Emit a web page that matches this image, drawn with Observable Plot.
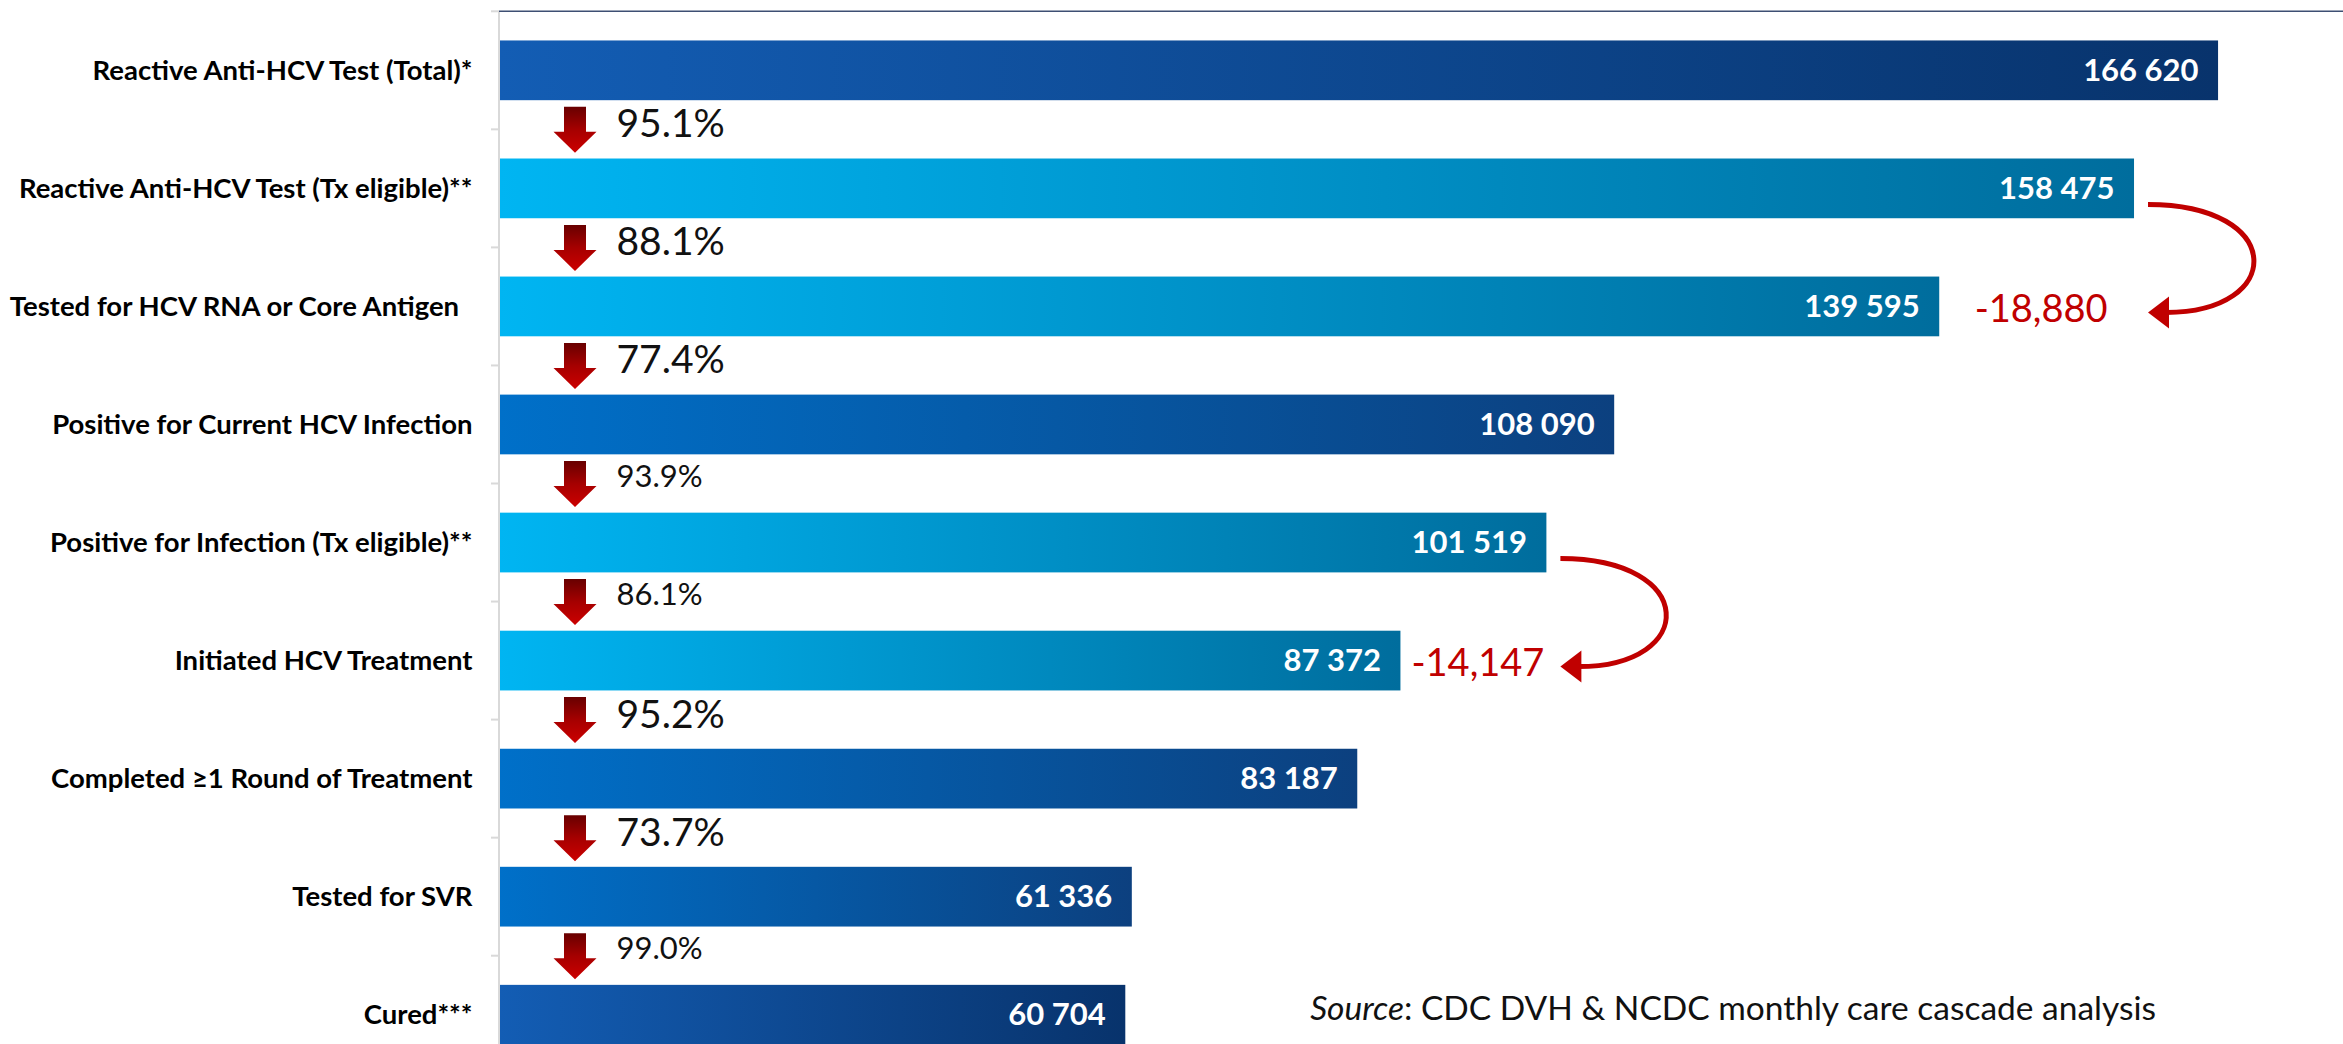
<!DOCTYPE html>
<html>
<head>
<meta charset="utf-8">
<script src="https://cdn.jsdelivr.net/npm/d3@7"></script>
<script src="https://cdn.jsdelivr.net/npm/@observablehq/plot@0.6"></script>
<style>
html, body { margin: 0; padding: 0; background: #fff; overflow: hidden; }
</style>
</head>
<body>
<div id="chart"></div>
<script>
// ---------------- data ----------------
const stages = [
  "Reactive Anti-HCV Test (Total)*",
  "Reactive Anti-HCV Test (Tx eligible)**",
  "Tested for HCV RNA or Core Antigen  ",
  "Positive for Current HCV Infection",
  "Positive for Infection (Tx eligible)**",
  "Initiated HCV Treatment",
  "Completed \u22651 Round of Treatment",
  "Tested for SVR",
  "Cured***"
];
const counts = [166620, 158475, 139595, 108090, 101519, 87372, 83187, 61336, 60704];
const stageGroup = ["total", "eligible", "eligible", "confirmed", "eligible", "eligible", "confirmed", "confirmed", "total"];
const stepRates = [95.1, 88.1, 77.4, 93.9, 86.1, 95.2, 73.7, 99.0];
const stepHighlighted = [true, true, true, false, false, true, true, false];
const dropFrom = [1, 4];
const dropTo = [2, 5];
const dropValues = [-18880, -14147];
const sourceLead = "Source";
const sourceRest = ": CDC DVH & NCDC monthly care cascade analysis";

// ---------------- styling ----------------
const W = 2343, H = 1044;
const RED = "#c00000";
const gradients = {
  total: ["#135db4", "#08336c"],
  eligible: ["#00b5f2", "#006d9d"],
  confirmed: ["#0070c9", "#0c407f"]
};
const Y0 = 11.3, STEP = 118.05;
const ARROW_OFF = 14; // px gap between source bar end and curved arrow

const fmtCount = v => d3.format(",")(v).replace(/,/g, " ");
const fmtDrop = v => (v < 0 ? "-" : "") + d3.format(",")(Math.abs(v));

const rows = stages.map((stage, i) => ({stage, count: counts[i], group: stageGroup[i]}));
const steps = stepRates.map((r, i) => ({to: stages[i + 1], label: r.toFixed(1) + "%", big: stepHighlighted[i]}));
const drops = dropFrom.map((f, i) => ({
  mid: (counts[f] + counts[dropTo[i]]) / 2,
  toStage: stages[dropTo[i]],
  label: fmtDrop(dropValues[i])
}));

const defsMark = () => {
  const defs = d3.create("svg:defs");
  for (const [k, [a, b]] of Object.entries(gradients)) {
    const g = defs.append("linearGradient").attr("id", "grad-" + k)
      .attr("x1", 0).attr("x2", 1).attr("y1", 0).attr("y2", 0);
    g.append("stop").attr("offset", 0).attr("stop-color", a);
    g.append("stop").attr("offset", 1).attr("stop-color", b);
  }
  const ag = defs.append("linearGradient").attr("id", "grad-arrow")
    .attr("x1", 0).attr("x2", 0).attr("y1", 0).attr("y2", 1);
  ag.append("stop").attr("offset", 0).attr("stop-color", "#680000");
  ag.append("stop").attr("offset", 0.5).attr("stop-color", "#a60000");
  ag.append("stop").attr("offset", 1).attr("stop-color", "#cc0000");
  return defs.node();
};

function frameDecor(index, scales, values, dims) {
  const y = scales.y;
  const bw = y.bandwidth ? y.bandwidth() : STEP * 0.506;
  const st = y.step ? y.step() : STEP;
  const x0 = dims.marginLeft;
  const g = d3.create("svg:g");
  g.append("line").attr("x1", x0).attr("x2", x0).attr("y1", dims.marginTop).attr("y2", dims.height)
    .attr("stroke", "#d9d9d9").attr("stroke-width", 2);
  for (const s of stages) {
    const yb = y(s) - (st - bw) / 2;
    g.append("line").attr("x1", x0 - 8).attr("x2", x0).attr("y1", yb).attr("y2", yb)
      .attr("stroke", "#d9d9d9").attr("stroke-width", 2);
  }
  g.append("line").attr("x1", x0).attr("x2", dims.width).attr("y1", dims.marginTop).attr("y2", dims.marginTop)
    .attr("stroke", "#3d4f73").attr("stroke-width", 1.6);
  return g.node();
}

function dropArrows(index, scales) {
  const {x, y} = scales;
  const bw = y.bandwidth ? y.bandwidth() : STEP * 0.506;
  const g = d3.create("svg:g");
  dropFrom.forEach((f, i) => {
    const t = dropTo[i];
    const sx = x(counts[f]) + ARROW_OFF;
    const y0 = y(stages[f]) + bw / 2 + 16;
    const y1 = y(stages[t]) + bw / 2 + 6;
    const k = 138;
    g.append("path")
      .attr("d", `M${sx},${y0} C${sx + k},${y0} ${sx + k},${y1} ${sx + 18},${y1}`)
      .attr("fill", "none").attr("stroke", RED).attr("stroke-width", 5);
    g.append("path")
      .attr("d", `M${sx},${y1} L${sx + 21},${y1 - 16} L${sx + 21},${y1 + 16} Z`)
      .attr("fill", RED);
  });
  return g.node();
}

function sourceNote(index, scales, values, dims) {
  const y = scales.y;
  const bw = y.bandwidth ? y.bandwidth() : STEP * 0.506;
  const yc = y(stages[stages.length - 1]) + bw / 2 - 5;
  const t = d3.create("svg:text")
    .attr("x", dims.width - 187).attr("y", yc).attr("dy", "0.32em")
    .attr("text-anchor", "end").attr("font-size", 33.5).attr("fill", "#111");
  t.append("tspan").attr("font-style", "italic").text(sourceLead);
  t.append("tspan").text(sourceRest);
  return t.node();
}

const downArrow = {
  draw(ctx, l) {
    const sw = 11, hw = 21.5, hl = 21;
    ctx.moveTo(-sw, -l);
    ctx.lineTo(sw, -l);
    ctx.lineTo(sw, -hl);
    ctx.lineTo(hw, -hl);
    ctx.lineTo(0, 0);
    ctx.lineTo(-hw, -hl);
    ctx.lineTo(-sw, -hl);
    ctx.closePath();
  }
};

const chart = Plot.plot({
  width: W,
  height: H,
  marginLeft: 499,
  marginRight: 0,
  marginTop: Y0,
  marginBottom: 0,
  x: {domain: [0, 178730], axis: null},
  y: {domain: stages, range: [Y0, Y0 + 9 * STEP], paddingInner: 0.494, paddingOuter: 0.247, round: false},
  style: {fontFamily: "Lato, 'Open Sans', sans-serif", fontSize: "20px", color: "black", background: "white", overflow: "hidden"},
  marks: [
    defsMark,
    ...Object.keys(gradients).map(k =>
      Plot.barX(rows, {filter: d => d.group === k, x: "count", y: "stage", fill: `url(#grad-${k})`})
    ),
    frameDecor,
    Plot.axisY({anchor: "left", tickSize: 0, tickPadding: 27, fontSize: 27.5, fontWeight: "bold", label: null, fill: "black"}),
    Plot.text(rows, {x: "count", y: "stage", text: d => fmtCount(d.count), textAnchor: "end", dx: -20, fill: "white", fontWeight: "bold", fontSize: 31}),
    Plot.vector(steps, {x: () => 0, y: "to", dx: 75.5, dy: -STEP / 2, length: 46, shape: downArrow, fill: "url(#grad-arrow)", stroke: "none"}),
    Plot.text(steps, {filter: d => d.big, x: () => 0, y: "to", text: "label", textAnchor: "start", dx: 117, dy: -STEP / 2 - 5, fontSize: 39, fill: "#111"}),
    Plot.text(steps, {filter: d => !d.big, x: () => 0, y: "to", text: "label", textAnchor: "start", dx: 117, dy: -STEP / 2 - 7, fontSize: 31, fill: "#111"}),
    dropArrows,
    Plot.text(drops, {x: "mid", y: "toStage", text: "label", textAnchor: "middle", dx: ARROW_OFF / 2 - 3, dy: 3, fill: RED, fontSize: 38}),
    sourceNote
  ]
});
document.getElementById("chart").appendChild(chart);
</script>
</body>
</html>
